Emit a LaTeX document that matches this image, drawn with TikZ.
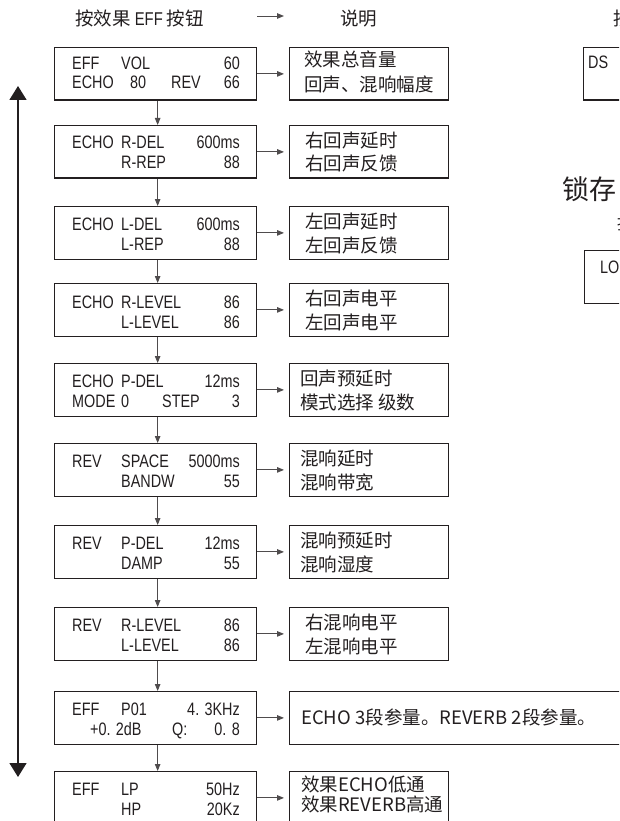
\documentclass[tikz,border=0pt]{standalone}
\usepackage{fontspec}
\setmainfont{Liberation Sans}
\newfontfamily\cjk{Noto Sans CJK SC}
\newfontfamily\lcd[FakeStretch=0.8]{Liberation Sans}
\usetikzlibrary{arrows.meta}
\definecolor{ink}{RGB}{35,31,32}
\tikzset{
  lcdbox/.style={draw=ink, line width=1.3pt, minimum width=202pt, minimum height=52.5pt, inner sep=0pt, anchor=north west},
  descbox/.style={lcdbox, minimum width=159pt},
  widebox/.style={lcdbox, minimum width=360pt},
  stubbox/.style={lcdbox, minimum width=60pt},
  lt/.style={font=\lcd\fontsize{18}{18}\selectfont, text=ink, inner sep=0pt, anchor=base west},
  rt/.style={lt, anchor=base east},
  ct/.style={font=\cjk\fontsize{18.5}{18.5}\selectfont, text=ink, inner sep=0pt, anchor=base west},
  conn/.style={draw=ink!80, line width=0.9pt, -{Triangle[width=5.5pt,length=7pt]}},
  hconn/.style={conn, shorten >=5pt},
  bigarrow/.style={draw=ink, line width=1.5pt, {Triangle[width=17pt,length=14pt]}-{Triangle[width=17pt,length=14pt]}}
}
\begin{document}
\begin{tikzpicture}[x=1pt,y=-1pt]
\useasboundingbox (0,0) rectangle (619,821);
\clip (0,0) rectangle (619,821);
\fill[white] (0,0) rectangle (619,821);

% header
\node[ct] (h1) at (75,25.5) {按效果 {\lcd EFF} 按钮};
\node[ct] (h2) at (340,25.5) {说明};
\coordinate (ha) at (257,16);
\coordinate (hb) at (284,16);
\draw[conn] (ha) -- (hb);
\node[ct] (h3) at (613,25.5) {按};

% right stubs
\node[stubbox] (ds) at (583,47) {};
\node[lt] (dst) at (588,68.5) {DS};
\node[ct, font=\cjk\fontsize{27}{27}\selectfont] (lock) at (562,199) {锁存};
\node[ct, font=\cjk\fontsize{17}{17}\selectfont] (h4) at (617,229.5) {按};
\node[stubbox, minimum height=53pt] (lo) at (584,250) {};
\node[lt] (lot) at (600,273) {LO};

% big up/down arrow
\coordinate (up) at (18,86);
\coordinate (dn) at (18,777);
\draw[bigarrow] (up) -- (dn);

% LCD boxes
\node[lcdbox] (b1) at (54,47) {};
\node[lcdbox] (b2) at (54,125) {};
\node[lcdbox] (b3) at (54,206) {};
\node[lcdbox] (b4) at (54,283) {};
\node[lcdbox] (b5) at (54,363) {};
\node[lcdbox] (b6) at (54,443) {};
\node[lcdbox] (b7) at (54,525) {};
\node[lcdbox] (b8) at (54,607) {};
\node[lcdbox] (b9) at (54,691) {};
\node[lcdbox] (b10) at (54,771) {};

% description boxes
\node[descbox] (d1) at (289,47) {};
\node[descbox] (d2) at (289,125) {};
\node[descbox] (d3) at (289,206) {};
\node[descbox] (d4) at (289,283) {};
\node[descbox] (d5) at (289,363) {};
\node[descbox] (d6) at (289,443) {};
\node[descbox] (d7) at (289,525) {};
\node[descbox] (d8) at (289,607) {};
\node[widebox] (d9) at (289,691) {};
\node[descbox] (d10) at (289,771) {};

% LCD texts
\node[lt] (t1a) at (72,70) {EFF};
\node[lt] (t1b) at (121,70) {VOL};
\node[rt] (t1c) at (240,70) {60};
\node[lt] (t1d) at (72,89) {ECHO};
\node[lt] (t1e) at (130,89) {80};
\node[lt] (t1f) at (171,89) {REV};
\node[rt] (t1g) at (240,89) {66};

\node[lt] (t2a) at (72,149) {ECHO};
\node[lt] (t2b) at (121,149) {R-DEL};
\node[rt] (t2c) at (240,149) {600ms};
\node[lt] (t2d) at (121,169) {R-REP};
\node[rt] (t2e) at (240,169) {88};

\node[lt] (t3a) at (72,230) {ECHO};
\node[lt] (t3b) at (121,230) {L-DEL};
\node[rt] (t3c) at (240,230) {600ms};
\node[lt] (t3d) at (121,250) {L-REP};
\node[rt] (t3e) at (240,250) {88};

\node[lt] (t4a) at (72,308) {ECHO};
\node[lt] (t4b) at (121,308) {R-LEVEL};
\node[rt] (t4c) at (240,308) {86};
\node[lt] (t4d) at (121,328) {L-LEVEL};
\node[rt] (t4e) at (240,328) {86};

\node[lt] (t5a) at (72,387) {ECHO};
\node[lt] (t5b) at (121,387) {P-DEL};
\node[rt] (t5c) at (240,387) {12ms};
\node[lt] (t5d) at (72,407) {MODE};
\node[lt] (t5e) at (121,407) {0};
\node[lt] (t5f) at (162,407) {STEP};
\node[rt] (t5g) at (240,407) {3};

\node[lt] (t6a) at (72,467) {REV};
\node[lt] (t6b) at (121,467) {SPACE};
\node[rt] (t6c) at (240,467) {5000ms};
\node[lt] (t6d) at (121,487) {BANDW};
\node[rt] (t6e) at (240,487) {55};

\node[lt] (t7a) at (72,549) {REV};
\node[lt] (t7b) at (121,549) {P-DEL};
\node[rt] (t7c) at (240,549) {12ms};
\node[lt] (t7d) at (121,569) {DAMP};
\node[rt] (t7e) at (240,569) {55};

\node[lt] (t8a) at (72,631) {REV};
\node[lt] (t8b) at (121,631) {R-LEVEL};
\node[rt] (t8c) at (240,631) {86};
\node[lt] (t8d) at (121,651) {L-LEVEL};
\node[rt] (t8e) at (240,651) {86};

\node[lt] (t9a) at (72,715) {EFF};
\node[lt] (t9b) at (121,715) {P01};
\node[rt] (t9c) at (240,715) {4. 3KHz};
\node[lt] (t9d) at (90,735) {+0. 2dB};
\node[lt] (t9e) at (172,735) {Q:};
\node[rt] (t9f) at (240,735) {0. 8};

\node[lt] (t10a) at (72,795) {EFF};
\node[lt] (t10b) at (121,795) {LP};
\node[rt] (t10c) at (240,795) {50Hz};
\node[lt] (t10d) at (121,815) {HP};
\node[rt] (t10e) at (240,815) {20Kz};

% description texts
\node[ct] (c1a) at (304,66.5) {效果总音量};
\node[ct] (c1b) at (304,91.5) {回声、混响幅度};
\node[ct] (c2a) at (305,147.5) {右回声延时};
\node[ct] (c2b) at (305,171) {右回声反馈};
\node[ct] (c3a) at (305,228.5) {左回声延时};
\node[ct] (c3b) at (305,252) {左回声反馈};
\node[ct] (c4a) at (305,305.5) {右回声电平};
\node[ct] (c4b) at (305,329) {左回声电平};
\node[ct] (c5a) at (300,385.5) {回声预延时};
\node[ct] (c5b) at (300,409) {模式选择 级数};
\node[ct] (c6a) at (300,465.5) {混响延时};
\node[ct] (c6b) at (300,489) {混响带宽};
\node[ct] (c7a) at (300,547.5) {混响预延时};
\node[ct] (c7b) at (300,571) {混响湿度};
\node[ct] (c8a) at (305,629.5) {右混响电平};
\node[ct] (c8b) at (305,653) {左混响电平};
\node[ct] (c9a) at (301,724) {ECHO 3段参量。REVERB 2段参量。};
\node[ct] (c10a) at (301,791.5) {效果ECHO低通};
\node[ct] (c10b) at (301,811.5) {效果REVERB高通};

% connectors
\foreach \i/\j in {1/2,2/3,3/4,4/5,5/6,6/7,7/8,8/9,9/10}
  \draw[conn] ([xshift=2pt]b\i.south) -- ([xshift=2pt]b\j.north);
\foreach \i in {1,...,8,10}
  \draw[hconn] (b\i.east) -- (d\i.west);
\draw[hconn] (b9.east) -- (b9.east -| d9.west);
\end{tikzpicture}
\end{document}
